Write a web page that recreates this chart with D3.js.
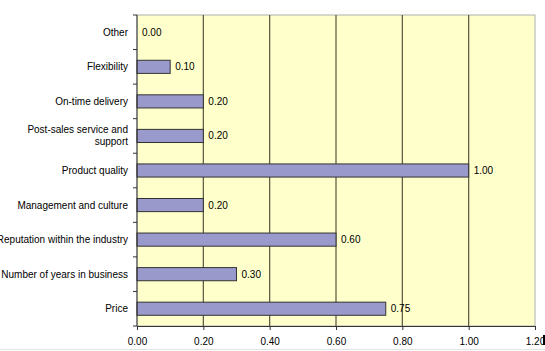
<!DOCTYPE html>
<html lang="en">
<head>
  <meta charset="utf-8">
  <title>Chart</title>
  <style>
    body { margin: 0; background: #fff; }
    svg text { font-family: "Liberation Sans", Arial, sans-serif; font-size: 10px; fill: #000; }
  </style>
</head>
<body>
  <script src="https://d3js.org/d3.v7.min.js"></script>
  <svg width="545" height="351"></svg>
  <script>
    // categories top to bottom
    var categories = ["Other", "Flexibility", "On-time delivery", "Post-sales service and support",
      "Product quality", "Management and culture", "Reputation within the industry",
      "Number of years in business", "Price"];
    var values = [0.00, 0.10, 0.20, 0.20, 1.00, 0.20, 0.60, 0.30, 0.75];
    var xTicks = [0, 0.2, 0.4, 0.6, 0.8, 1.0, 1.2];

    var svg = d3.select("svg");
    var plotL = 137, plotR = 535, plotT = 15, plotB = 326;

    var x = d3.scaleLinear().domain([0, 1.2]).range([plotL, plotR]);
    var y = d3.scaleBand().domain(categories).range([plotT, plotB]).paddingInner(0.62).paddingOuter(0.31);

    // plot background
    svg.append("rect")
      .attr("x", plotL).attr("y", plotT)
      .attr("width", plotR - plotL).attr("height", plotB - plotT)
      .attr("fill", "#ffffcc")
      .attr("stroke", "#b0b0b0");

    // vertical grid lines
    svg.selectAll(".grid").data(xTicks.slice(1, -1)).enter().append("line")
      .attr("x1", function (d) { return x(d); })
      .attr("x2", function (d) { return x(d); })
      .attr("y1", plotT).attr("y2", plotB)
      .attr("stroke", "#55553f").attr("stroke-width", 1.2);

    // bars
    svg.selectAll(".bar").data(values).enter().append("rect")
      .attr("x", x(0))
      .attr("y", function (d, i) { return y(categories[i]); })
      .attr("width", function (d) { return x(d) - x(0); })
      .attr("height", y.bandwidth())
      .attr("fill", "#9999cc")
      .attr("stroke", function (d) { return d > 0 ? "#333" : "none"; })
      .attr("stroke-width", 1);

    // value labels
    svg.selectAll(".val").data(values).enter().append("text")
      .attr("x", function (d) { return x(d) + 5; })
      .attr("y", function (d, i) { return y(categories[i]) + y.bandwidth() / 2; })
      .attr("dy", "0.35em")
      .text(function (d) { return d.toFixed(2); });

    // x axis
    var xAxis = d3.axisBottom(x).tickValues(xTicks).tickFormat(d3.format(".2f")).tickSize(4).tickPadding(8);
    var gx = svg.append("g")
      .attr("transform", "translate(0," + plotB + ")")
      .call(xAxis);
    gx.select(".domain").attr("stroke", "#333");
    gx.selectAll(".tick line").attr("stroke", "#333");
    gx.selectAll("text").style("font-size", "10px");

    // y axis line and ticks at band boundaries
    var step = y.step();
    var bounds = d3.range(categories.length + 1).map(function (i) { return plotT + i * step; });
    svg.append("line")
      .attr("x1", plotL).attr("x2", plotL).attr("y1", plotT).attr("y2", plotB)
      .attr("stroke", "#333");
    svg.selectAll(".ytick").data(bounds).enter().append("line")
      .attr("x1", plotL - 4).attr("x2", plotL)
      .attr("y1", function (d) { return d; }).attr("y2", function (d) { return d; })
      .attr("stroke", "#333");

    // category labels
    svg.selectAll(".cat").data(categories).enter().append("text")
      .attr("text-anchor", "end")
      .attr("x", plotL - 9)
      .attr("y", function (d) { return y(d) + y.bandwidth() / 2; })
      .each(function (d) {
        var t = d3.select(this);
        if (d === "Post-sales service and support") {
          t.append("tspan").attr("x", plotL - 9).attr("dy", "-0.25em").text("Post-sales service and");
          t.append("tspan").attr("x", plotL - 9).attr("dy", "1.2em").text("support");
        } else {
          t.attr("dy", "0.35em").text(d);
        }
      });

    // bottom frame line and edge mark
    svg.append("line").attr("x1", 0).attr("x2", 545).attr("y1", 349.5).attr("y2", 349.5).attr("stroke", "#e4e4e4");
    svg.append("rect").attr("x", 543).attr("y", 335).attr("width", 2).attr("height", 10).attr("fill", "#000");
  </script>
</body>
</html>
